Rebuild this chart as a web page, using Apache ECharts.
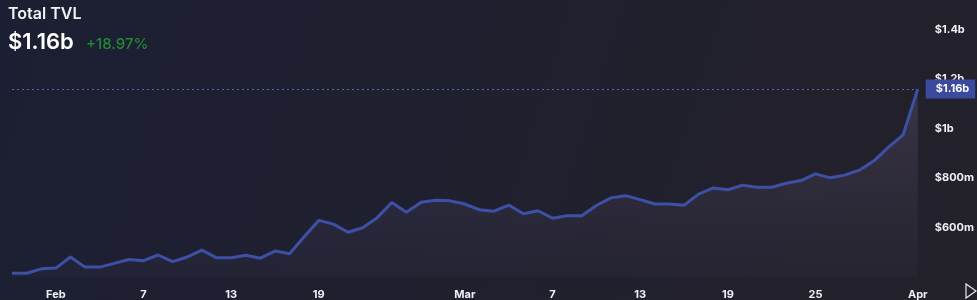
<!DOCTYPE html>
<html>
<head>
<meta charset="utf-8">
<script src="https://cdn.jsdelivr.net/npm/echarts@6/dist/echarts.min.js"></script>
<style>
html,body{margin:0;padding:0;background:#1e2030;}
#c{width:977px;height:300px;}
</style>
</head>
<body>
<div id="c"></div>
<script>
const categories = [
 '2025-01-29','2025-01-30','2025-01-31',
 '2025-02-01','2025-02-02','2025-02-03','2025-02-04','2025-02-05','2025-02-06','2025-02-07',
 '2025-02-08','2025-02-09','2025-02-10','2025-02-11','2025-02-12','2025-02-13','2025-02-14',
 '2025-02-15','2025-02-16','2025-02-17','2025-02-18','2025-02-19','2025-02-20','2025-02-21',
 '2025-02-22','2025-02-23','2025-02-24','2025-02-25','2025-02-26','2025-02-27','2025-02-28',
 '2025-03-01','2025-03-02','2025-03-03','2025-03-04','2025-03-05','2025-03-06','2025-03-07',
 '2025-03-08','2025-03-09','2025-03-10','2025-03-11','2025-03-12','2025-03-13','2025-03-14',
 '2025-03-15','2025-03-16','2025-03-17','2025-03-18','2025-03-19','2025-03-20','2025-03-21',
 '2025-03-22','2025-03-23','2025-03-24','2025-03-25','2025-03-26','2025-03-27','2025-03-28',
 '2025-03-29','2025-03-30','2025-03-31','2025-04-01'
];
// TVL in millions of USD
const tvl = [
 415,415,433,
 436,481,440,440,455,471,466,
 489,462,481,509,478,478,488,
 476,505,494,563,629,614,581,
 599,640,701,662,702,710,708,
 695,672,666,691,656,668,638,
 648,648,689,720,729,713,695,
 695,690,735,760,753,771,763,
 763,779,790,817,801,812,832,
 870,925,975,1160
];
const tickLabels = {
 '2025-02-01':'Feb','2025-02-07':'7','2025-02-13':'13','2025-02-19':'19',
 '2025-03-01':'Mar','2025-03-07':'7','2025-03-13':'13','2025-03-19':'19','2025-03-25':'25',
 '2025-04-01':'Apr'
};
const yTicks = [400,600,800,1000,1200,1400,1500];
const titleText = 'Total TVL';
const currentText = '$1.16b';
const changeText = '+18.97%';
const currentValue = 1160;

function fmt(v){
  if (v >= 1000) { const b = v/1000; return '$' + (Number.isInteger(b) ? b : b.toFixed(1)) + 'b'; }
  return '$' + v + 'm';
}

const chart = echarts.init(document.getElementById('c'), null, {renderer:'canvas'});
chart.setOption({
  backgroundColor: {
    type:'linear', x:0, y:0, x2:1, y2:1,
    colorStops:[{offset:0,color:'#1c1f33'},{offset:1,color:'#23212a'}]
  },
  animation:false,
  textStyle:{fontFamily:'Inter, "Noto Sans", sans-serif'},
  grid:{left:12, right:58, top:5, bottom:23},
  xAxis:{
    type:'category', data:categories, boundaryGap:false,
    axisLine:{show:false}, axisTick:{show:false}, splitLine:{show:false},
    axisLabel:{
      color:'#f0f0f4', fontSize:11, fontWeight:'bold', margin:12,
      interval:(i,v)=> tickLabels[v] !== undefined,
      formatter:(v)=> tickLabels[v] || ''
    }
  },
  yAxis:{
    type:'value', position:'right', min:yTicks[0], max:yTicks[yTicks.length-1], interval:200,
    axisLine:{show:false}, axisTick:{show:false}, splitLine:{show:false},
    axisLabel:{
      color:'#f0f0f4', fontSize:11, fontWeight:'bold', margin:17,
      showMinLabel:false, showMaxLabel:false,
      formatter:(v)=> fmt(v)
    }
  },
  series:[{
    type:'line', data:tvl, symbol:'none',
    lineStyle:{color:'#3d50a6', width:3},
    areaStyle:{
      color:{type:'linear',x:0,y:0,x2:0,y2:1,
        colorStops:[{offset:0,color:'rgba(115,100,140,0.42)'},{offset:1,color:'rgba(85,75,105,0.12)'}]}
    },
    markLine:{
      symbol:'none', silent:true,
      lineStyle:{type:[2,3], color:'#5565b0', width:1},
      label:{
        position:'end', formatter: currentText, color:'#ffffff', fontSize:11, fontWeight:'bold',
        backgroundColor:'#3a4a9e', padding:[4,6,4,10], distance:8
      },
      data:[{yAxis:currentValue}]
    }
  }],
  graphic:[
    {type:'text', left:8, top:6, style:{text:titleText, fill:'#f2f2f5', font:'600 16px Inter, sans-serif'}},
    {type:'text', left:8, top:31, style:{text:currentText, fill:'#ffffff', font:'600 22px Inter, sans-serif'}},
    {type:'text', left:86, top:37, style:{text:changeText, fill:'#1f8a36', font:'500 15px Inter, sans-serif'}},
    {type:'polygon', shape:{points:[[966,284],[966,298],[976,291]]}, style:{fill:'none', stroke:'#e8e8ee', lineWidth:1.2}}
  ]
});
</script>
</body>
</html>
